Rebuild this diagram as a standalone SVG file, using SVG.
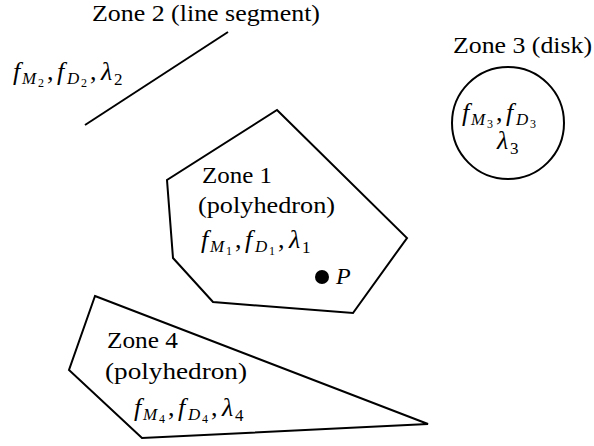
<svg xmlns="http://www.w3.org/2000/svg" width="594" height="446" viewBox="0 0 594 446">
<style>
.t{font-family:"Liberation Serif","Times New Roman",serif;font-size:24px;fill:#000}
.m{font-family:"Liberation Serif","Times New Roman",serif;font-size:26px;fill:#000}
.i{font-style:italic}
.s1{font-size:17px}
.s2{font-size:12px;font-style:normal}
.shape{fill:none;stroke:#000;stroke-width:2;stroke-linejoin:miter}
</style>
<rect width="594" height="446" fill="#fff"/>
<g id="connectors"/>
<g id="zone2">
<line class="shape" x1="85" y1="125" x2="228" y2="32"/>
<text class="t" x="92" y="21" textLength="228" lengthAdjust="spacingAndGlyphs">Zone 2 (line segment)</text>
<text class="m" y="80"><tspan class="i" x="13">f</tspan><tspan class="i s1" x="22" y="84">M</tspan><tspan class="s2" x="38" y="87">2</tspan><tspan x="47" y="80">,</tspan><tspan class="i" x="57">f</tspan><tspan class="i s1" x="67" y="84">D</tspan><tspan class="s2" x="81" y="87">2</tspan><tspan x="90" y="80">,</tspan><tspan class="i" x="101">λ</tspan><tspan class="s1" x="114" y="85">2</tspan></text>
</g>
<g id="zone3">
<circle class="shape" cx="508" cy="123" r="56"/>
<text class="t" x="453" y="53" textLength="139" lengthAdjust="spacingAndGlyphs">Zone 3 (disk)</text>
<text class="m" y="121"><tspan class="i" x="462">f</tspan><tspan class="i s1" x="471" y="125">M</tspan><tspan class="s2" x="487" y="128">3</tspan><tspan x="496" y="121">,</tspan><tspan class="i" x="506">f</tspan><tspan class="i s1" x="516" y="125">D</tspan><tspan class="s2" x="530" y="128">3</tspan></text>
<text class="m" y="149"><tspan class="i" x="497">λ</tspan><tspan class="s1" x="510" y="154">3</tspan></text>
</g>
<g id="zone1">
<polygon class="shape" points="277,110 407,238 353,313 213,302 173,258 167,180"/>
<text class="t" x="202" y="183" textLength="70" lengthAdjust="spacingAndGlyphs">Zone 1</text>
<text class="t" x="198" y="213" textLength="137" lengthAdjust="spacingAndGlyphs">(polyhedron)</text>
<text class="m" y="248"><tspan class="i" x="201">f</tspan><tspan class="i s1" x="210" y="252">M</tspan><tspan class="s2" x="226" y="255">1</tspan><tspan x="235" y="248">,</tspan><tspan class="i" x="245">f</tspan><tspan class="i s1" x="255" y="252">D</tspan><tspan class="s2" x="269" y="255">1</tspan><tspan x="278" y="248">,</tspan><tspan class="i" x="289">λ</tspan><tspan class="s1" x="302" y="253">1</tspan></text>
</g>
<g id="pointP">
<circle cx="322" cy="277" r="7" fill="#000"/>
<text class="t i" x="336" y="284" font-size="20">P</text>
</g>
<g id="zone4">
<polygon class="shape" points="95,296 428,424 142,438 69,370"/>
<text class="t" x="107" y="348" textLength="71" lengthAdjust="spacingAndGlyphs">Zone 4</text>
<text class="t" x="105" y="379" textLength="142" lengthAdjust="spacingAndGlyphs">(polyhedron)</text>
<text class="m" y="416"><tspan class="i" x="134">f</tspan><tspan class="i s1" x="143" y="420">M</tspan><tspan class="s2" x="159" y="423">4</tspan><tspan x="168" y="416">,</tspan><tspan class="i" x="178">f</tspan><tspan class="i s1" x="188" y="420">D</tspan><tspan class="s2" x="202" y="423">4</tspan><tspan x="211" y="416">,</tspan><tspan class="i" x="222">λ</tspan><tspan class="s1" x="235" y="421">4</tspan></text>
</g>
</svg>
